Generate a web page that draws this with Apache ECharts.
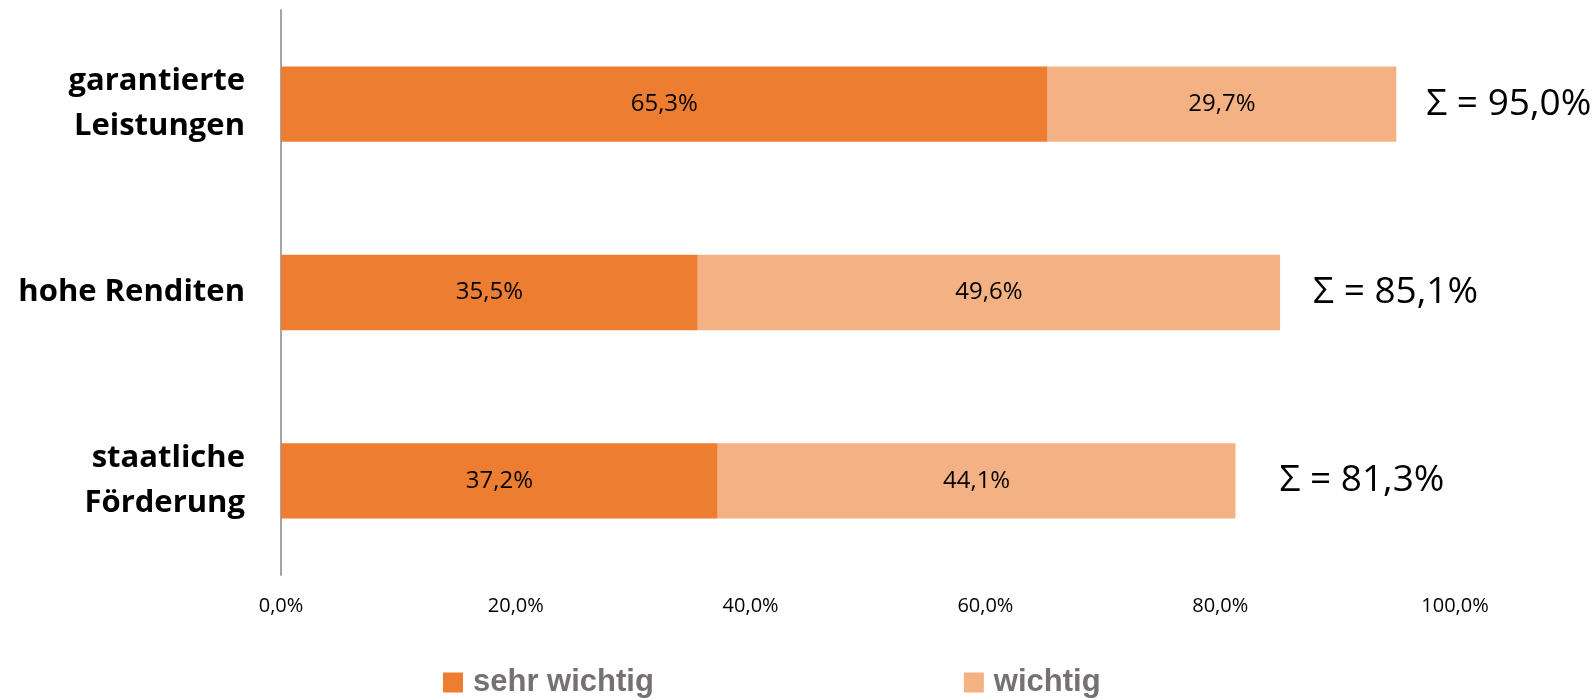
<!DOCTYPE html>
<html>
<head>
<meta charset="utf-8">
<script src="https://cdn.jsdelivr.net/npm/echarts@6/dist/echarts.min.js"></script>
<style>
  html, body { margin: 0; padding: 0; background: #fff; }
  #chart { width: 1593px; height: 699px; }
</style>
</head>
<body>
<div id="chart"></div>
<script>
// Daten
var categories = ["garantierte\nLeistungen", "hohe Renditen", "staatliche\nFörderung"];
var sehrWichtig = [65.3, 35.5, 37.2];
var wichtig = [29.7, 49.6, 44.1];
var seriesNames = ["sehr wichtig", "wichtig"];
var xTicks = [0, 20, 40, 60, 80, 100];

// Abstand der Summen-Beschriftung vom Balkenende (wie im Original von Hand gesetzt)
var sumLabelGap = [30, 33, 44];

function fmt(v) {
  return v.toFixed(1).replace(".", ",") + "%";
}

var chart = echarts.init(document.getElementById("chart"));

var option = {
  animation: false,
  grid: { left: 281, right: 138, top: 10, bottom: 124 },
  legend: {
    data: seriesNames,
    left: 438,
    top: 662,
    itemWidth: 20,
    itemHeight: 20,
    itemGap: 310,
    icon: "rect",
    textStyle: {
      fontFamily: "Liberation Sans",
      fontWeight: "bold",
      fontSize: 31,
      color: "#767171",
      padding: [0, 0, 0, 5]
    }
  },
  xAxis: {
    type: "value",
    min: xTicks[0],
    max: xTicks[xTicks.length - 1],
    interval: 20,
    axisLine: { show: false },
    axisTick: { show: false },
    splitLine: { show: false },
    axisLabel: {
      margin: 21,
      fontFamily: "Open Sans",
      fontSize: 20,
      color: "#000",
      formatter: function (v) { return fmt(v); }
    }
  },
  yAxis: {
    type: "category",
    inverse: true,
    data: categories,
    axisLine: { show: true, lineStyle: { color: "#a6a6a6", width: 2 } },
    axisTick: { show: false },
    axisLabel: {
      margin: 36,
      fontFamily: "Open Sans",
      fontWeight: "bold",
      fontSize: 31,
      lineHeight: 45,
      color: "#000",
      align: "right"
    }
  },
  series: [
    {
      name: seriesNames[0],
      type: "bar",
      stack: "total",
      barWidth: "40%",
      data: sehrWichtig,
      itemStyle: { color: "#ED7D31" },
      label: {
        show: true,
        position: "inside",
        fontFamily: "Open Sans",
        fontSize: 24,
        color: "#000",
        formatter: function (p) { return fmt(p.value); }
      }
    },
    {
      name: seriesNames[1],
      type: "bar",
      stack: "total",
      data: wichtig,
      itemStyle: { color: "#F4B183" },
      label: {
        show: true,
        position: "inside",
        fontFamily: "Open Sans",
        fontSize: 24,
        color: "#000",
        formatter: function (p) { return fmt(p.value); }
      }
    },
    {
      // unsichtbare Serie nur für die Summen-Beschriftung
      name: "summe",
      type: "bar",
      stack: "total",
      data: sumLabelGap.map(function (g) {
        return { value: 0, label: { distance: g } };
      }),
      itemStyle: { color: "transparent" },
      label: {
        show: true,
        position: "right",
        fontFamily: "Open Sans",
        fontSize: 37,
        color: "#000",
        formatter: function (p) {
          var i = p.dataIndex;
          return "Σ = " + fmt(sehrWichtig[i] + wichtig[i]);
        }
      }
    }
  ]
};

chart.setOption(option);
</script>
</body>
</html>
